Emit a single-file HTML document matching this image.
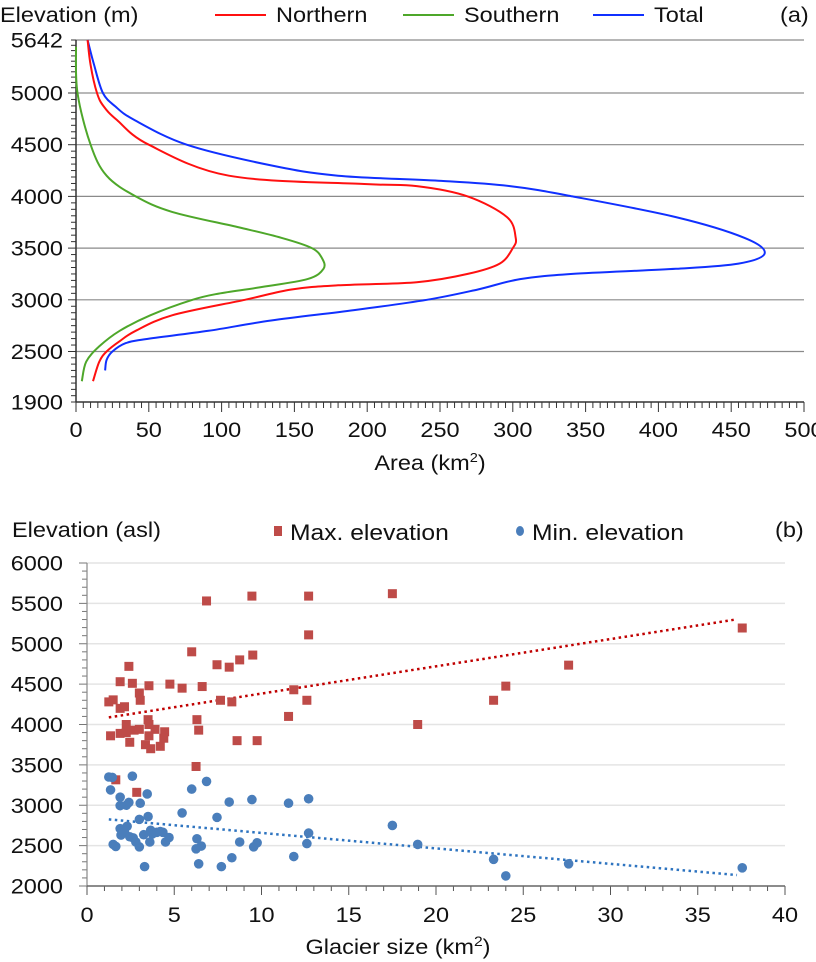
<!DOCTYPE html>
<html><head><meta charset="utf-8">
<style>
html,body{margin:0;padding:0;background:#fff;}
svg{display:block;font-family:"Liberation Sans",Arial,sans-serif;}
</style></head>
<body>
<svg id="root" width="816" height="962" viewBox="0 0 816 962" xmlns="http://www.w3.org/2000/svg">
<g id="chartA"></g>
<g id="chartB"></g>
</svg>
<script>
// ---------- Chart (a) data ----------
const aYTicks = [5642, 5000, 4500, 4000, 3500, 3000, 2500, 1900];
const aXTicks = [0, 50, 100, 150, 200, 250, 300, 350, 400, 450, 500];
const northElev = [5642, 5340, 5000, 4870, 4740, 4500, 4200, 4120, 4100, 4000, 3800, 3600, 3500, 3350, 3250, 3170, 3140, 3100, 3000, 2850, 2700, 2600, 2500, 2379, 2147];
const northArea = [8, 10, 14.4, 19, 28, 50, 105, 198, 234, 269, 296, 302, 300, 291, 269, 234, 180, 148, 116, 66, 41, 30, 21, 16, 11.7];
const southElev = [5560, 5000, 4500, 4200, 4000, 3850, 3700, 3600, 3500, 3400, 3300, 3200, 3120, 3060, 3000, 2850, 2700, 2550, 2379, 2147];
const southArea = [0, 1, 10, 21, 41, 66, 112, 141, 162, 169, 170, 159, 126, 98, 80, 51, 30, 16, 7, 4];
const totalElev = [5642, 5340, 5000, 4870, 4740, 4500, 4300, 4200, 4150, 4100, 4000, 3800, 3600, 3450, 3350, 3300, 3250, 3200, 3100, 3000, 2900, 2800, 2700, 2620, 2580, 2500, 2400, 2276];
const totalArea = [8, 12.4, 18.5, 27, 40, 76, 134, 180, 251, 298, 341, 412, 459, 473, 455, 412, 341, 305, 276, 241, 191, 134, 91, 48, 34, 25, 21, 20];

// ---------- Chart (b) data ----------
const bXTicks = [0, 5, 10, 15, 20, 25, 30, 35, 40];
const bYTicks = [2000, 2500, 3000, 3500, 4000, 4500, 5000, 5500, 6000];
const maxSize = [1.25,1.5,1.35,1.65,1.9,1.9,2.15,1.9,2.25,2.25,2.4,2.45,2.6,2.7,3.0,3.05,3.0,2.85,3.35,3.55,3.5,3.55,3.55,3.65,3.9,4.2,4.45,4.4,4.75,5.45,6.0,6.25,6.3,6.4,6.6,6.85,7.45,7.65,8.15,8.3,8.6,8.75,9.45,9.5,9.75,11.55,11.85,12.7,12.7,12.6,17.5,18.95,23.3,24.0,27.6,37.55];
const maxElev = [4280,4305,3860,3315,4530,4200,4220,3890,4000,3900,4720,3780,4510,3930,4390,4300,3940,3160,3750,4480,4060,4000,3860,3700,3940,3730,3910,3830,4500,4450,4900,3480,4060,3930,4470,5530,4740,4300,4710,4280,3800,4800,5590,4860,3800,4100,4430,5590,5110,4300,5620,4000,4300,4475,4735,5195];
const minSize = [1.25,1.45,1.35,1.5,1.65,1.9,1.9,1.9,1.95,2.15,2.25,2.4,2.3,2.45,2.6,2.65,2.8,3.0,3.0,3.05,3.25,3.3,3.45,3.5,3.6,3.65,3.75,4.0,4.2,4.35,4.5,4.7,5.45,6.0,6.3,6.25,6.55,6.4,6.85,7.45,7.7,8.15,8.3,8.75,9.45,9.55,9.75,11.55,11.85,12.7,12.7,12.6,17.5,18.95,23.3,24.0,27.6,37.55];
const minElev = [3350,3345,3190,2515,2490,3100,2995,2710,2630,2670,3000,3035,2740,2610,3360,2595,2545,2825,2485,3025,2635,2240,3140,2860,2545,2690,2645,2665,2675,2665,2545,2600,2905,3200,2585,2460,2495,2275,3295,2850,2240,3040,2350,2545,3070,2485,2535,3025,2365,3080,2655,2525,2750,2515,2330,2125,2275,2225];

const NS = "http://www.w3.org/2000/svg";
const SX = 1.12;
function mk(parent, tag, attrs, text) {
  const el = document.createElementNS(NS, tag);
  for (const k in attrs) el.setAttribute(k, attrs[k]);
  if (text !== undefined) el.textContent = text;
  parent.appendChild(el);
  return el;
}
function txt(parent, x, y, anchor, size, str) {
  const el = mk(parent, 'text', {x: 0, y: 0, 'text-anchor': anchor, 'font-size': size, fill: '#111', transform: 'translate(' + x + ',' + y + ') scale(' + SX + ',1)'});
  if (str !== undefined) el.textContent = str;
  return el;
}

// ================= Chart A =================
const A = document.getElementById('chartA');
const aL = 76, aR = 804, aTop = 40, aBot = 402;
const yTop = 40, y5000 = 93, y2500 = 351.5;
function ax(v) { return aL + v / 500 * (aR - aL); }
function ay(e) {
  if (e >= 5000) return y5000 - (e - 5000) / 642 * (y5000 - yTop);
  if (e >= 2500) return y5000 + (5000 - e) / 2500 * (y2500 - y5000);
  return y2500 + (2500 - e) / 600 * (aBot - y2500);
}
aYTicks.forEach(function (t) {
  if (t === 1900) return;
  const g = mk(A, 'line', {x1: aL, x2: aR, y1: ay(t), y2: ay(t), stroke: t === 5000 ? '#b8b8b8' : '#8a8a8a', 'stroke-width': t === 5000 ? 2 : 1.2});
  
  
});
for (let i = 0; i <= 10; i++) { const y = yTop + i * (y5000 - yTop) / 10; mk(A, 'line', {x1: aL - 5, x2: aL, y1: y, y2: y, stroke: '#333', 'stroke-width': 1}); }
for (let e = 5000; e >= 2500; e -= 62.5) { mk(A, 'line', {x1: aL - (e % 500 === 0 ? 8 : 5), x2: aL, y1: ay(e), y2: ay(e), stroke: '#333', 'stroke-width': 1}); }
for (let i = 1; i <= 8; i++) { const y = y2500 + i * (aBot - y2500) / 8; mk(A, 'line', {x1: aL - 5, x2: aL, y1: y, y2: y, stroke: '#333', 'stroke-width': 1}); }
for (let v = 0; v <= 500; v += 5) {
  const major = v % 50 === 0;
  mk(A, 'line', {x1: ax(v), x2: ax(v), y1: aBot, y2: aBot + (major ? 10 : 6), stroke: '#333', 'stroke-width': 1});
}
let t;
t = mk(A, 'line', {x1: aL, x2: aL, y1: yTop, y2: aBot, stroke: '#333', 'stroke-width': 1.5});


t = mk(A, 'line', {x1: aL, x2: aR, y1: aBot, y2: aBot, stroke: '#333', 'stroke-width': 1.5});


aYTicks.forEach(function (v) {
  const el = txt(A, aL - 13, ay(v) + 7.5, 'end', 21, String(v));
  
  
});
aXTicks.forEach(function (v) {
  const el = txt(A, ax(v), 437, 'middle', 21, String(v));
  
  
});
function smooth(pts) {
  let d = 'M' + pts[0][0].toFixed(1) + ',' + pts[0][1].toFixed(1);
  for (let i = 0; i < pts.length - 1; i++) {
    const p0 = pts[Math.max(0, i - 1)], p1 = pts[i], p2 = pts[i + 1], p3 = pts[Math.min(pts.length - 1, i + 2)];
    const c1x = p1[0] + (p2[0] - p0[0]) / 6, c1y = p1[1] + (p2[1] - p0[1]) / 6;
    const c2x = p2[0] - (p3[0] - p1[0]) / 6, c2y = p2[1] - (p3[1] - p1[1]) / 6;
    d += 'C' + c1x.toFixed(1) + ',' + c1y.toFixed(1) + ' ' + c2x.toFixed(1) + ',' + c2y.toFixed(1) + ' ' + p2[0].toFixed(1) + ',' + p2[1].toFixed(1);
  }
  return d;
}
function curve(elev, area, color, name) {
  const pts = elev.map(function (e, i) { return [ax(area[i]), ay(e)]; });
  const p = mk(A, 'path', {d: smooth(pts), fill: 'none', stroke: color, 'stroke-width': 2});
  
  
}
curve(southElev, southArea, '#4ea72a', 'southern-curve');
curve(totalElev, totalArea, '#1030ff', 'total-curve');
curve(northElev, northArea, '#ff1010', 'northern-curve');
t = txt(A, 0, 22, 'start', 21, 'Elevation (m)');


const legA = [['#ff1010', 'Northern', 215], ['#4ea72a', 'Southern', 403], ['#1030ff', 'Total', 593]];
legA.forEach(function (l) {
  const g = mk(A, 'g', {});
  
  
  mk(g, 'line', {x1: l[2], x2: l[2] + 51, y1: 15, y2: 15, stroke: l[0], 'stroke-width': 2});
  txt(g, l[2] + 61, 22, 'start', 21, l[1]);
});
t = txt(A, 780, 22, 'start', 21, '(a)');


t = txt(A, 430, 470, 'middle', 21);


t.innerHTML = 'Area (km<tspan dy="-8" font-size="13">2</tspan><tspan dy="8">)</tspan>';

// ================= Chart B =================
const B = document.getElementById('chartB');
const bL = 87, bR = 785, bTop = 563, bBot = 886;
function bx(v) { return bL + v / 40 * (bR - bL); }
function by(e) { return bBot - (e - 2000) / 4000 * (bBot - bTop); }
bYTicks.forEach(function (v) {
  if (v === 2000) return;
  const g = mk(B, 'line', {x1: bL, x2: bR, y1: by(v), y2: by(v), stroke: '#e4e4e4', 'stroke-width': 1.5});
  
  
});
for (let e = 2000; e <= 6000; e += 100) {
  mk(B, 'line', {x1: bL - (e % 500 === 0 ? 8 : 5), x2: bL, y1: by(e), y2: by(e), stroke: '#777', 'stroke-width': 1});
}
for (let v = 0; v <= 40; v += 1) {
  mk(B, 'line', {x1: bx(v), x2: bx(v), y1: bBot, y2: bBot + (v % 5 === 0 ? 9 : 5), stroke: '#555', 'stroke-width': 1});
}
t = mk(B, 'line', {x1: bL, x2: bL, y1: bTop, y2: bBot, stroke: '#888', 'stroke-width': 1.2});


t = mk(B, 'line', {x1: bL, x2: bR, y1: bBot, y2: bBot, stroke: '#666', 'stroke-width': 1.5});


bYTicks.forEach(function (v) {
  const el = txt(B, bL - 24, by(v) + 7.5, 'end', 21, String(v));
  
  
});
bXTicks.forEach(function (v) {
  const el = txt(B, bx(v), 922, 'middle', 21, String(v));
  
  
});
function trend(xs, ys, color, name) {
  const n = xs.length;
  let sx = 0, sy = 0, sxx = 0, sxy = 0;
  for (let i = 0; i < n; i++) { sx += xs[i]; sy += ys[i]; sxx += xs[i] * xs[i]; sxy += xs[i] * ys[i]; }
  const m = (n * sxy - sx * sy) / (n * sxx - sx * sx), b = (sy - m * sx) / n;
  const x0 = Math.min.apply(null, xs), x1 = Math.max.apply(null, xs) - 0.3;
  const l = mk(B, 'line', {x1: bx(x0), y1: by(m * x0 + b), x2: bx(x1), y2: by(m * x1 + b), stroke: color, 'stroke-width': 2.5, 'stroke-dasharray': '2.5 3.5'});
  
  
}
trend(maxSize, maxElev, '#c00000', 'max-trendline');
trend(minSize, minElev, '#2e74c0', 'min-trendline');
maxSize.forEach(function (s, i) {
  const r = mk(B, 'rect', {x: bx(s) - 4.5, y: by(maxElev[i]) - 4.5, width: 9, height: 9, fill: '#be4b48'});
  
  
});
minSize.forEach(function (s, i) {
  const c = mk(B, 'circle', {cx: bx(s), cy: by(minElev[i]), r: 4.8, fill: '#4a7ebb'});
  
  
});
t = txt(B, 12, 537, 'start', 21, 'Elevation (asl)');


let lg = mk(B, 'g', {});


mk(lg, 'rect', {x: 274, y: 526, width: 8, height: 10, fill: '#be4b48'});
txt(lg, 290, 540, 'start', 22, 'Max. elevation');
lg = mk(B, 'g', {});


mk(lg, 'ellipse', {cx: 520, cy: 531, rx: 4, ry: 5, fill: '#4a7ebb'});
txt(lg, 532, 540, 'start', 22, 'Min. elevation');
t = txt(B, 775, 537, 'start', 21, '(b)');


t = txt(B, 398, 954, 'middle', 21);


t.innerHTML = 'Glacier size (km<tspan dy="-8" font-size="14">2</tspan><tspan dy="8">)</tspan>';
</script>
</body></html>
